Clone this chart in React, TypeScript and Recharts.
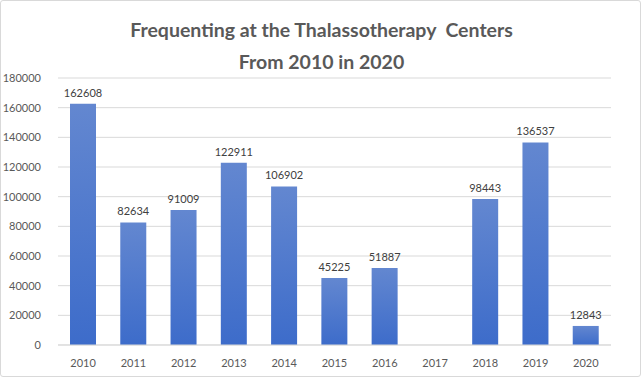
import React from "react";
import { BarChart, Bar, XAxis, YAxis, CartesianGrid, LabelList } from "recharts";

const years = ["2010", "2011", "2012", "2013", "2014", "2015", "2016", "2017", "2018", "2019", "2020"];
const visitors: Array<number | null> = [162608, 82634, 91009, 122911, 106902, 45225, 51887, null, 98443, 136537, 12843];
const yTicks = [0, 20000, 40000, 60000, 80000, 100000, 120000, 140000, 160000, 180000];

const data = years.map((year, i) => ({ year, visitors: visitors[i] }));

export default function App() {
  return (
    <div
      style={{
        position: "absolute",
        left: 0,
        top: 0,
        width: 641,
        height: 377,
        boxSizing: "border-box",
        border: "1px solid #d9d9d9",
        borderRadius: 3,
        background: "#fff",
        fontFamily: "Lato, 'Open Sans', sans-serif",
      }}
    >
      <div
        style={{
          position: "absolute",
          left: 0,
          top: 13,
          width: 641,
          textAlign: "center",
          color: "#595959",
          fontWeight: "bold",
          fontSize: 19.5,
          lineHeight: "32px",
        }}
      >
        Frequenting at the Thalassotherapy&nbsp; Centers
        <br />
        From 2010 in 2020
      </div>
      <div style={{ position: "absolute", left: -1, top: -1 }}>
        <BarChart
          width={641}
          height={377}
          data={data}
          margin={{ top: 78, right: 30, bottom: 2, left: 0 }}
          barSize={26}
        >
          <defs>
            <linearGradient id="barFill" x1="0" y1="0" x2="0" y2="1">
              <stop offset="0%" stopColor="#6387d0" />
              <stop offset="100%" stopColor="#3d6cca" />
            </linearGradient>
          </defs>
          <CartesianGrid vertical={false} stroke="#d9d9d9" />
          <XAxis
            dataKey="year"
            height={30}
            tickLine={false}
            axisLine={{ stroke: "#d9d9d9" }}
            tick={{ fill: "#595959", fontSize: 11 }}
            tickMargin={8}
          />
          <YAxis
            width={58}
            domain={[0, 180000]}
            ticks={yTicks}
            interval={0}
            axisLine={false}
            tickLine={false}
            tick={{ fill: "#595959", fontSize: 11 }}
            tickMargin={11}
          />
          <Bar dataKey="visitors" fill="url(#barFill)" isAnimationActive={false}>
            <LabelList dataKey="visitors" position="top" offset={7} fill="#404040" fontSize={11} />
          </Bar>
        </BarChart>
      </div>
    </div>
  );
}
